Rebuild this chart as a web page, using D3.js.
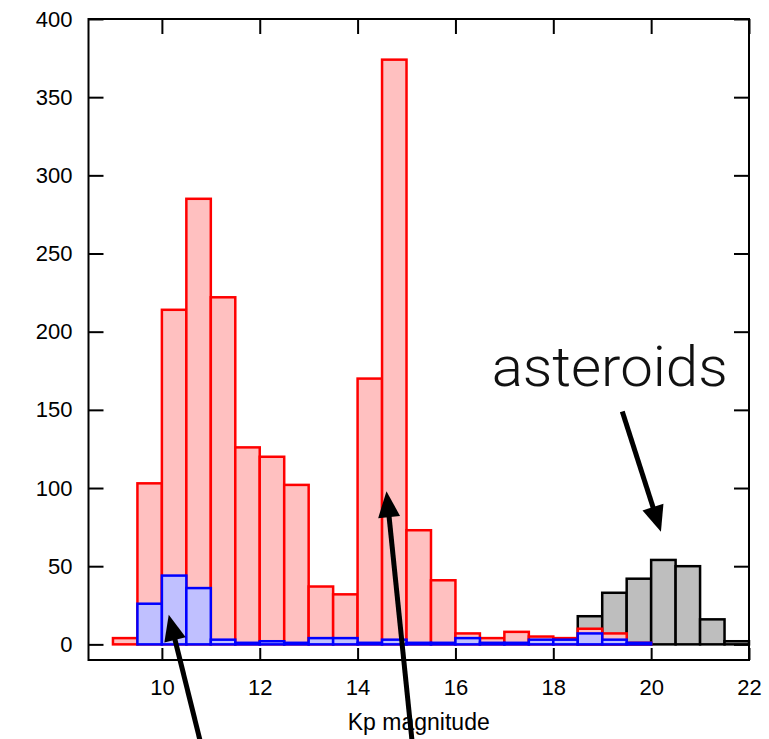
<!DOCTYPE html>
<html>
<head>
<script src="https://d3js.org/d3.v7.min.js"></script>
<style>
  body { margin: 0; background: #fff; }
  .axis text { font-family: "Liberation Sans", Arial, sans-serif; font-size: 22px; fill: #000; }
  .axis line { stroke: #000; stroke-width: 2px; }
</style>
</head>
<body>
<svg></svg>
<script>
// bin lower edges (bin width 0.5 in Kp magnitude)
var binLo = [9.0, 9.5, 10.0, 10.5, 11.0, 11.5, 12.0, 12.5, 13.0, 13.5, 14.0,
             14.5, 15.0, 15.5, 16.0, 16.5, 17.0, 17.5, 18.0, 18.5, 19.0, 19.5];
var redCounts  = [4, 103, 214, 285, 222, 126, 120, 102, 37, 32, 170,
                  374, 73, 41, 7, 4, 8, 5, 4, 10, 7, 1];
var blueCounts = [0, 26, 44, 36, 3, 1, 2, 1, 4, 4, 1,
                  3, 1, 1, 4, 1, 1, 3, 3, 7, 3, 1];
var asteroidLo = [18.5, 19.0, 19.5, 20.0, 20.5, 21.0, 21.5];
var asteroidCounts = [18, 33, 42, 54, 50, 16, 2];
var binWidth = 0.5;

var xTicks = [10, 12, 14, 16, 18, 20, 22];
var yTicks = [0, 50, 100, 150, 200, 250, 300, 350, 400];

// annotation arrows, in data units: [x0, y0, x1(tip), y1(tip)]
var arrows = [
  [19.41, 149, 20.2, 72],
  [15.12, -64, 14.59, 98],
  [10.80, -64, 10.14, 19]
];

var W = 769, H = 739;
var x = d3.scaleLinear().domain([8.5, 22]).range([88.5, 749]);
var y = d3.scaleLinear().domain([-10, 400]).range([660, 19]);

var svg = d3.select("svg").attr("width", W).attr("height", H);

function bars(cls, lo, counts, fill, stroke) {
  svg.append("g").attr("class", cls)
    .selectAll("rect")
    .data(counts)
    .enter().append("rect")
    .attr("x", function(d, i){ return x(lo[i]); })
    .attr("width", function(d, i){ return x(lo[i] + binWidth) - x(lo[i]); })
    .attr("y", function(d){ return y(d); })
    .attr("height", function(d){ return y(0) - y(d); })
    .attr("fill", fill)
    .attr("stroke", stroke)
    .attr("stroke-width", 2.5);
}

bars("asteroids", asteroidLo, asteroidCounts, "#bebebe", "#000");
bars("red", binLo, redCounts, "#ffc0c0", "#ff0000");
bars("blue", binLo, blueCounts, "#c0c0ff", "#0000ff");

// axes with inward ticks
svg.append("g").attr("class", "axis")
  .attr("transform", "translate(" + x.range()[0] + ",0)")
  .call(d3.axisLeft(y).tickValues(yTicks).tickSize(-15).tickPadding(16))
  .call(function(g){ g.select(".domain").remove(); });

svg.append("g").attr("class", "axis")
  .attr("transform", "translate(" + x.range()[1] + ",0)")
  .call(d3.axisRight(y).tickValues(yTicks).tickSize(-15).tickFormat(""))
  .call(function(g){ g.select(".domain").remove(); });

svg.append("g").attr("class", "axis")
  .attr("transform", "translate(0," + y.range()[0] + ")")
  .call(d3.axisBottom(x).tickValues(xTicks).tickSize(-12).tickPadding(19))
  .call(function(g){ g.select(".domain").remove(); });

svg.append("g").attr("class", "axis")
  .attr("transform", "translate(0," + y.range()[1] + ")")
  .call(d3.axisTop(x).tickValues(xTicks).tickSize(-15).tickFormat(""))
  .call(function(g){ g.select(".domain").remove(); });

// frame
svg.append("rect")
  .attr("x", x.range()[0]).attr("y", y.range()[1])
  .attr("width", x.range()[1] - x.range()[0])
  .attr("height", y.range()[0] - y.range()[1])
  .attr("fill", "none").attr("stroke", "#000").attr("stroke-width", 2);

svg.append("text")
  .attr("x", (x.range()[0] + x.range()[1]) / 2)
  .attr("y", 730)
  .attr("text-anchor", "middle")
  .style("font-family", "'Liberation Sans', Arial, sans-serif")
  .style("font-size", "23px")
  .text("Kp magnitude");

svg.append("text")
  .attr("x", x(16.74))
  .attr("y", y(165))
  .attr("textLength", 236)
  .attr("lengthAdjust", "spacingAndGlyphs")
  .style("font-family", "Roboto, 'Open Sans', sans-serif")
  .style("font-weight", 300)
  .style("font-size", "56px")
  .style("fill", "#111")
  .text("asteroids");

// arrows
var headLen = 26, headHalf = 11;
arrows.forEach(function(a){
  var x0 = x(a[0]), y0 = y(a[1]), x1 = x(a[2]), y1 = y(a[3]);
  var dx = x1 - x0, dy = y1 - y0, len = Math.sqrt(dx*dx + dy*dy);
  var ux = dx / len, uy = dy / len;
  var bx = x1 - ux * headLen, by = y1 - uy * headLen;
  svg.append("line")
    .attr("x1", x0).attr("y1", y0)
    .attr("x2", bx + ux * 2).attr("y2", by + uy * 2)
    .attr("stroke", "#000").attr("stroke-width", 5);
  svg.append("path")
    .attr("d", "M" + x1 + "," + y1 +
               "L" + (bx - uy * headHalf) + "," + (by + ux * headHalf) +
               "L" + (bx + uy * headHalf) + "," + (by - ux * headHalf) + "Z")
    .attr("fill", "#000");
});
</script>
</body>
</html>
